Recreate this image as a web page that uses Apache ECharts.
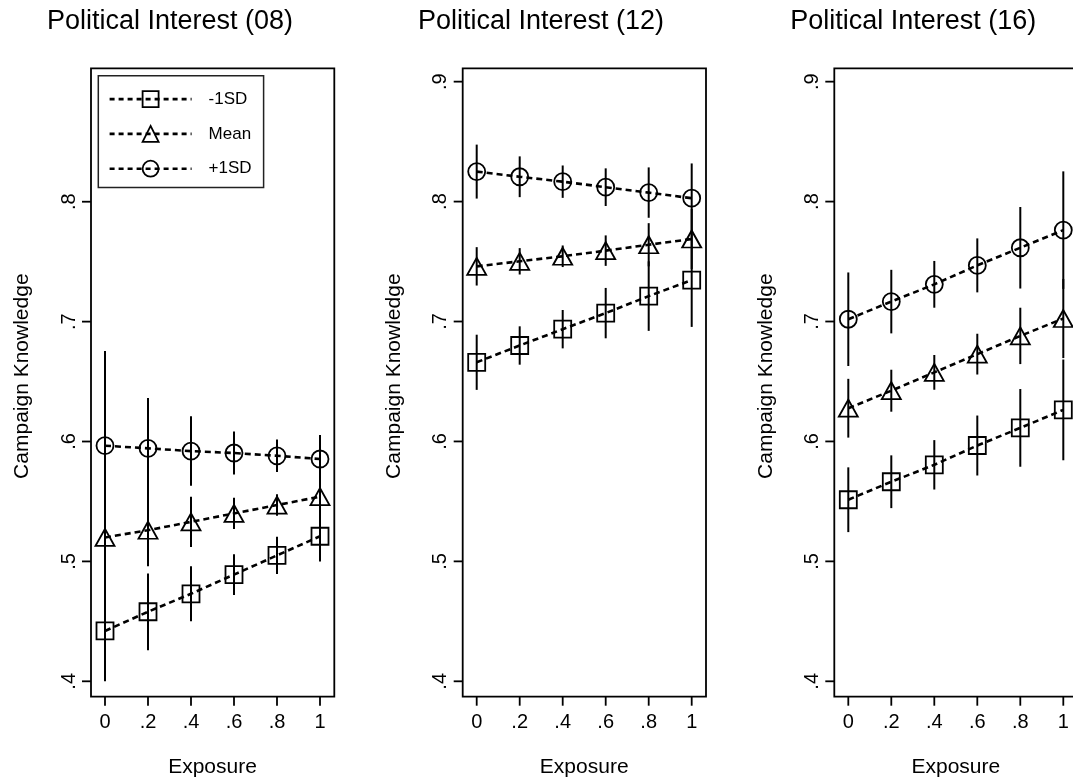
<!DOCTYPE html>
<html>
<head>
<meta charset="utf-8">
<script src="https://cdn.jsdelivr.net/npm/echarts@6/dist/echarts.min.js"></script>
<style>
  html, body { margin: 0; padding: 0; background: #fff; }
  #chart { width: 1073px; height: 783px; }
</style>
</head>
<body>
<div id="chart"></div>
<script>
// Predicted campaign knowledge by exposure, at three levels of political interest
const exposure = [0, 0.2, 0.4, 0.6, 0.8, 1];
const xTickValues = [0, 0.2, 0.4, 0.6, 0.8, 1];
const yTickValues = [
  [0.4, 0.5, 0.6, 0.7, 0.8],
  [0.4, 0.5, 0.6, 0.7, 0.8, 0.9],
  [0.4, 0.5, 0.6, 0.7, 0.8, 0.9]
];
const panelTitles = ['Political Interest (08)', 'Political Interest (12)', 'Political Interest (16)'];
const groupNames = ['-1SD', 'Mean', '+1SD'];

// 2008
const low08 = [0.442, 0.458, 0.473, 0.489, 0.505, 0.521];
const mean08 = [0.520, 0.526, 0.533, 0.540, 0.547, 0.554];
const high08 = [0.5965, 0.5943, 0.592, 0.5904, 0.5881, 0.5854];
const low08Margin = [0.042, 0.032, 0.023, 0.017, 0.0155, 0.021];
const mean08Margin = [0.038, 0.030, 0.021, 0.013, 0.009, 0.018];
const high08Margin = [0.079, 0.042, 0.029, 0.018, 0.0135, 0.020];

// 2012
const low12 = [0.666, 0.680, 0.6936, 0.707, 0.7212, 0.7345];
const mean12 = [0.746, 0.7502, 0.7544, 0.7591, 0.764, 0.7688];
const high12 = [0.825, 0.8207, 0.8166, 0.812, 0.8075, 0.8028];
const low12Margin = [0.023, 0.016, 0.016, 0.021, 0.029, 0.039];
const mean12Margin = [0.016, 0.011, 0.009, 0.0127, 0.018, 0.025];
const high12Margin = [0.0225, 0.017, 0.0135, 0.0157, 0.021, 0.029];

// 2016
const low16 = [0.5514, 0.5664, 0.5805, 0.5966, 0.6113, 0.6263];
const mean16 = [0.6277, 0.6423, 0.6576, 0.6728, 0.688, 0.7025];
const high16 = [0.7019, 0.7166, 0.731, 0.7468, 0.7615, 0.7762];
const low16Margin = [0.027, 0.022, 0.0206, 0.025, 0.0324, 0.042];
const mean16Margin = [0.0245, 0.0175, 0.0145, 0.017, 0.0235, 0.033];
const high16Margin = [0.039, 0.0265, 0.0195, 0.0225, 0.034, 0.049];

const panels = [
  { values: [low08, mean08, high08], margins: [low08Margin, mean08Margin, high08Margin] },
  { values: [low12, mean12, high12], margins: [low12Margin, mean12Margin, high12Margin] },
  { values: [low16, mean16, high16], margins: [low16Margin, mean16Margin, high16Margin] }
];

const FONT = '"Liberation Sans", Arial, Helvetica, sans-serif';
const symbols = ['rect', 'triangle', 'circle'];
const symbolSizes = [17, [19, 17], 17];

// plotting region of each panel (0..1 horizontally, .4..top tick vertically)
const plotLefts = [105, 476.7, 848.3];
const plotW = 215;
const yUnit = 1200.7;           // pixels per unit on the vertical scale
const yBase = 682;              // pixel row of .4
// frame drawn around each panel, slightly larger than the plotting region
const frameLefts = [91, 462.7, 834.3];
const frameW = 243.3, frameTop = 68.3, frameBottom = 696.7;
const titleCenters = [170, 541, 913.3];
const TICK_LEN = 9;

function tickText(v) {
  if (Math.abs(v) < 1e-9) return '0';
  if (Math.abs(v - 1) < 1e-9) return '1';
  return v.toFixed(1).replace(/^0/, '');
}

const grids = [], xAxes = [], yAxes = [], series = [], graphics = [];

panels.forEach((p, i) => {
  const yTop = yTickValues[i][yTickValues[i].length - 1];
  const top = yBase - (yTop - 0.4) * yUnit;
  const h = yBase - top;
  const nameShift = 2 * ((top + yBase) / 2 - 376.5);

  grids.push({ left: plotLefts[i], top: top, width: plotW, height: h });
  xAxes.push({
    type: 'value', gridIndex: i, min: 0, max: 1, interval: 0.2, position: 'bottom',
    offset: frameBottom - yBase,
    name: 'Exposure', nameLocation: 'middle', nameGap: 61,
    nameTextStyle: { fontFamily: FONT, fontSize: 21, color: '#000' },
    axisLine: { show: false, onZero: false },
    axisTick: { show: false },
    axisLabel: { show: true, margin: 16, formatter: tickText,
      fontFamily: FONT, fontSize: 20, color: '#000' },
    splitLine: { show: false }
  });
  yAxes.push({
    type: 'value', gridIndex: i, min: 0.4, max: yTop, interval: 0.1, position: 'left',
    offset: plotLefts[i] - frameLefts[i],
    name: 'Campaign Knowledge', nameLocation: 'middle', nameGap: 58,
    nameTextStyle: { fontFamily: FONT, fontSize: 21, color: '#000', padding: [0, 0, 0, nameShift] },
    axisLine: { show: false, onZero: false },
    axisTick: { show: false },
    axisLabel: { show: true, margin: 12, rotate: 90, formatter: tickText,
      fontFamily: FONT, fontSize: 20, color: '#000' },
    splitLine: { show: false }
  });
  graphics.push({
    type: 'rect', z: 0, silent: true,
    shape: { x: frameLefts[i], y: frameTop, width: frameW, height: frameBottom - frameTop },
    style: { fill: 'none', stroke: '#000', lineWidth: 1.8 }
  });
  graphics.push({
    type: 'text', x: titleCenters[i], y: 21.3,
    style: { text: panelTitles[i], font: '27px ' + FONT, fill: '#000',
      textAlign: 'center', textVerticalAlign: 'middle' }
  });

  p.values.forEach((vals, g) => {
    const margins = p.margins[g];
    // confidence intervals
    series.push({
      type: 'custom', name: 'ci ' + groupNames[g] + ' ' + i,
      xAxisIndex: i, yAxisIndex: i, z: 1, silent: true, clip: false,
      data: exposure.map((x, k) => [x, vals[k] - margins[k], vals[k] + margins[k]]),
      renderItem: function (params, api) {
        const a = api.coord([api.value(0), api.value(1)]);
        const b = api.coord([api.value(0), api.value(2)]);
        return { type: 'line', shape: { x1: a[0], y1: a[1], x2: b[0], y2: b[1] },
          style: { stroke: '#000', lineWidth: 2 } };
      }
    });
    // point estimates joined by a dashed line
    series.push({
      type: 'line', name: groupNames[g], xAxisIndex: i, yAxisIndex: i, z: 2, clip: false,
      data: exposure.map((x, k) => [x, vals[k]]),
      symbol: symbols[g], symbolSize: symbolSizes[g], showSymbol: true,
      itemStyle: { color: 'rgba(0,0,0,0)', borderColor: '#000', borderWidth: 1.8 },
      lineStyle: { color: '#000', width: 2.6, type: [6, 4] },
      emphasis: { disabled: true }, silent: true
    });
  });
});

const chart = echarts.init(document.getElementById('chart'), null, { renderer: 'canvas' });
chart.setOption({
  animation: false,
  backgroundColor: '#fff',
  grid: grids, xAxis: xAxes, yAxis: yAxes, series: series,
  graphic: graphics,
  legend: {
    data: groupNames, orient: 'vertical', left: 98.3, top: 75.7, z: 5,
    padding: [14.5, 12, 10, 10], itemGap: 17, itemWidth: 82, itemHeight: 20,
    backgroundColor: '#fff', borderColor: '#222', borderWidth: 1.5,
    selectedMode: false,
    itemStyle: { color: 'rgba(0,0,0,0)', borderColor: '#000', borderWidth: 1.8 },
    lineStyle: { color: '#000', width: 2.6, type: [5, 4] },
    textStyle: { fontFamily: FONT, fontSize: 17, color: '#000', padding: [0, 0, 0, 12] }
  }
});

// Tick marks outside each frame, positioned through each panel's axis scales
const tickMarks = [];
panels.forEach((p, i) => {
  xTickValues.forEach(v => {
    const c = chart.convertToPixel({ gridIndex: i }, [v, 0.4]);
    tickMarks.push({
      type: 'line', silent: true, z: 10,
      shape: { x1: c[0], y1: frameBottom, x2: c[0], y2: frameBottom + TICK_LEN },
      style: { stroke: '#000', lineWidth: 1.8 }
    });
  });
  yTickValues[i].forEach(v => {
    const c = chart.convertToPixel({ gridIndex: i }, [0, v]);
    tickMarks.push({
      type: 'line', silent: true, z: 10,
      shape: { x1: frameLefts[i], y1: c[1], x2: frameLefts[i] - TICK_LEN, y2: c[1] },
      style: { stroke: '#000', lineWidth: 1.8 }
    });
  });
});
chart.setOption({ graphic: graphics.concat(tickMarks) });
</script>
</body>
</html>
